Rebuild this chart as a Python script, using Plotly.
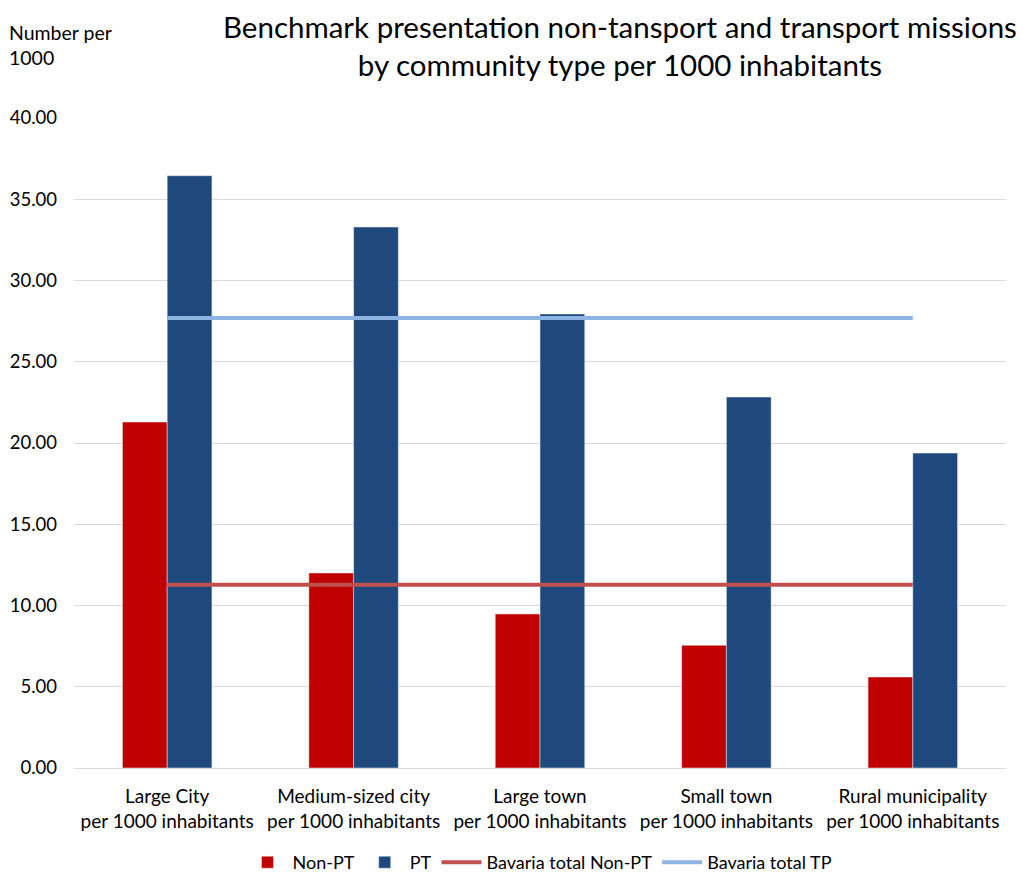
import plotly.graph_objects as go

categories = ["Large City<br>per 1000 inhabitants", "Medium-sized city<br>per 1000 inhabitants",
              "Large town<br>per 1000 inhabitants", "Small town<br>per 1000 inhabitants",
              "Rural municipality<br>per 1000 inhabitants"]
non_pt = [21.29, 12.00, 9.48, 7.55, 5.60]
pt = [36.45, 33.29, 27.94, 22.83, 19.38]
bavaria_non_pt = [11.27] * 5
bavaria_tp = [27.70] * 5
y_ticks = [0, 5, 10, 15, 20, 25, 30, 35, 40]

FONT = "Lato"

fig = go.Figure()
fig.add_trace(go.Bar(name="Non-PT", x=categories, y=non_pt, marker_color="#C00000"))
fig.add_trace(go.Bar(name="PT", x=categories, y=pt, marker_color="#1F497D"))
fig.add_trace(go.Scatter(name="Bavaria total Non-PT", x=categories, y=bavaria_non_pt, mode="lines",
                         line=dict(color="#C0504D", width=4)))
fig.add_trace(go.Scatter(name="Bavaria total TP", x=categories, y=bavaria_tp, mode="lines",
                         line=dict(color="#8DB4E2", width=4)))

fig.update_layout(
    width=1023, height=873,
    margin=dict(l=74, r=17, t=118, b=105),
    paper_bgcolor="white", plot_bgcolor="white",
    font=dict(family=FONT, size=18, color="#000000"),
    barmode="group", bargap=0.52, bargroupgap=0,
    showlegend=True,
    legend=dict(orientation="h", x=0.5, xanchor="center", y=0.012, yanchor="middle", yref="container",
                font=dict(family=FONT, size=18), itemwidth=40, traceorder="normal"),
    xaxis=dict(showline=True, linecolor="#D9D9D9", linewidth=1, ticks="", tickfont=dict(size=19),
               ticklabelstandoff=11, automargin=False),
    yaxis=dict(range=[0, 40], tickvals=y_ticks, tickformat=".2f", showgrid=True, gridcolor="#D9D9D9",
               gridwidth=1, zeroline=False, ticks="", ticklabelstandoff=16, tickfont=dict(size=18.5),
               automargin=False),
)
fig.add_annotation(text="Benchmark presentation non-tansport and transport missions<br>by community type per 1000 inhabitants",
                   xref="paper", yref="paper", x=0.586, y=1.111, xanchor="center", yanchor="middle",
                   showarrow=False, align="center", font=dict(family=FONT, size=29.5, color="#000000"))
fig.add_annotation(text="Number per<br>1000", xref="paper", yref="paper", x=-0.0715, y=1.112,
                   xanchor="left", yanchor="middle", showarrow=False, align="left",
                   font=dict(family=FONT, size=19.5))
fig.write_html("out.html")
